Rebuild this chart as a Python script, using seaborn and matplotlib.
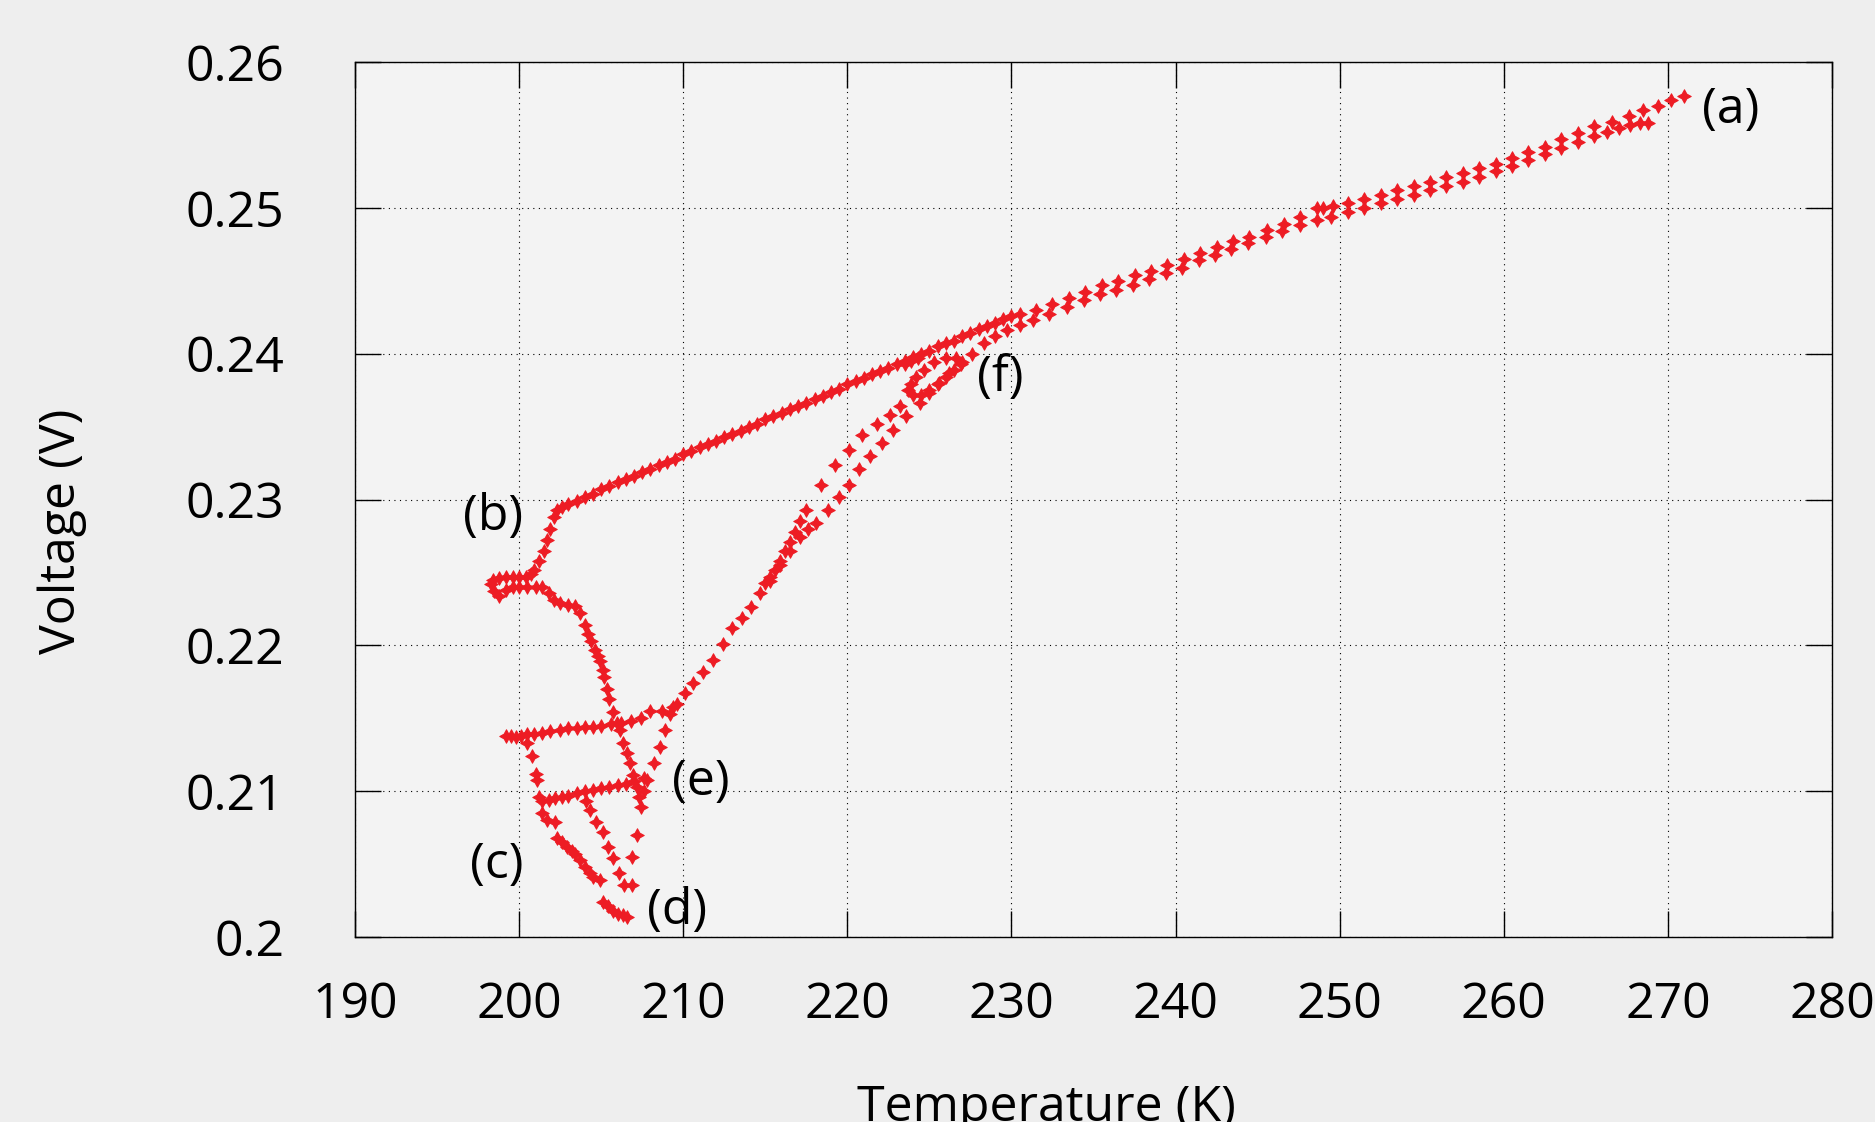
import numpy as np
import pandas as pd
import matplotlib
matplotlib.use("Agg")
import matplotlib.pyplot as plt
import seaborn as sns

# cooling run, from (a) down to the kink at (b)
cool_T = [271.0, 270.2, 269.4, 268.5, 267.6, 266.6, 265.5, 264.5, 263.5, 262.5,
          261.5, 260.5, 259.5, 258.5, 257.5, 256.5, 255.5, 254.5, 253.5, 252.5,
          251.5, 250.5, 249.6, 249.0, 248.6, 247.6, 246.6, 245.6, 244.5, 243.5,
          242.5, 241.5, 240.5, 239.5, 238.5, 237.5, 236.5, 235.5, 234.5, 233.5,
          232.5, 231.5, 230.5,
          230.0, 229.5, 229.0, 228.5, 228.0, 227.5, 227.0, 226.5, 226.0, 225.5,
          225.0, 224.5, 224.0, 223.5, 223.0, 222.5, 222.0, 221.5, 221.0, 220.5,
          220.0, 219.5, 219.0, 218.5, 218.0, 217.5, 217.0, 216.5, 216.0, 215.5,
          215.0, 214.5, 214.0, 213.5, 213.0, 212.5, 212.0, 211.5, 211.0, 210.5,
          210.0, 209.5, 209.0, 208.5, 208.0, 207.5, 207.0, 206.5, 206.0, 205.5,
          205.0, 204.5, 204.0, 203.5, 203.0, 202.6, 202.3]
cool_V = [0.2577, 0.2574, 0.2570, 0.2567, 0.2563, 0.2559, 0.2556, 0.2551, 0.2547, 0.2542,
          0.2538, 0.2534, 0.2530, 0.2527, 0.2524, 0.2521, 0.2518, 0.2515, 0.2512, 0.2509,
          0.2506, 0.2503, 0.2501, 0.2500, 0.2500, 0.2494, 0.2489, 0.2485, 0.2480, 0.2477,
          0.2473, 0.2469, 0.2465, 0.2461, 0.2457, 0.2454, 0.2450, 0.2447, 0.2442, 0.2438,
          0.2434, 0.2430, 0.2427,
          0.2426, 0.2424, 0.2421, 0.2419, 0.2417, 0.2414, 0.2412, 0.2409, 0.2407, 0.2405,
          0.2402, 0.2400, 0.2398, 0.2395, 0.2393, 0.2390, 0.2388, 0.2386, 0.2383, 0.2381,
          0.2379, 0.2376, 0.2374, 0.2371, 0.2369, 0.2366, 0.2364, 0.2362, 0.2359, 0.2357,
          0.2355, 0.2352, 0.2350, 0.2347, 0.2345, 0.2343, 0.2340, 0.2338, 0.2336, 0.2333,
          0.2331, 0.2328, 0.2326, 0.2324, 0.2321, 0.2319, 0.2316, 0.2314, 0.2312, 0.2309,
          0.2307, 0.2304, 0.2302, 0.2299, 0.2297, 0.2295, 0.2293]

# drop at (b), the small loop and the fall towards (e)
drop_T = [202.1, 201.9, 201.7, 201.5, 201.2, 200.9, 200.7, 200.4, 200.0, 199.6,
          199.2, 198.8, 198.4, 198.3, 198.5, 198.8, 199.2, 199.6, 200.0, 200.5,
          201.0, 201.4, 201.8, 202.1, 202.5, 203.0, 203.4, 203.7, 204.0, 204.2,
          204.4, 204.6, 204.8, 204.95, 205.1, 205.2, 205.35, 205.5, 205.75, 205.95,
          206.15, 206.35, 206.55, 206.76, 206.95, 207.17, 207.3, 207.4]
drop_V = [0.2288, 0.2280, 0.2272, 0.2265, 0.2258, 0.2252, 0.2249, 0.2247, 0.2247, 0.2247,
          0.2247, 0.2246, 0.2245, 0.2242, 0.2237, 0.2234, 0.2238, 0.2240, 0.2240, 0.2240,
          0.2240, 0.2240, 0.2236, 0.2231, 0.2229, 0.2228, 0.2227, 0.2222, 0.2214, 0.2208,
          0.2203, 0.2197, 0.2193, 0.2189, 0.2183, 0.2178, 0.2170, 0.2163, 0.2154, 0.2147,
          0.2142, 0.2133, 0.2126, 0.2119, 0.2111, 0.2103, 0.2096, 0.2089]

# warming run from (e) up to (f)
rise_T = [207.6, 207.8, 208.2, 208.6, 208.9, 209.2, 209.6, 210.1, 210.6, 211.2,
          211.8, 212.4, 213.0, 213.6, 214.1, 214.7, 215.0, 215.3, 215.6, 215.9,
          216.2, 216.5, 216.8, 217.1, 217.5]
rise_V = [0.2100, 0.2108, 0.2119, 0.2130, 0.2142, 0.2153, 0.2160, 0.2167, 0.2174, 0.2182,
          0.2190, 0.2201, 0.2212, 0.2219, 0.2226, 0.2236, 0.2243, 0.2247, 0.2252, 0.2258,
          0.2265, 0.2271, 0.2278, 0.2285, 0.2293]

# sparse dots left of the rising run
gap_T = [218.4, 219.25, 220.1, 220.9, 221.8, 222.6, 223.2]
gap_V = [0.2310, 0.2324, 0.2334, 0.2344, 0.2352, 0.2358, 0.2364]

# second rising track, continues past (f)
trackb_T = [215.3, 215.9, 216.5, 217.1, 217.6, 218.1, 218.8, 219.5, 220.1, 220.7,
            221.4, 222.1, 222.8, 223.6, 224.4, 225.0, 225.6, 226.2, 226.9, 227.6,
            228.3, 229.0, 229.7, 230.5, 231.3, 232.3, 233.4, 234.4, 235.4]
trackb_V = [0.2244, 0.2255, 0.2265, 0.2274, 0.2280, 0.2284, 0.2293, 0.2302, 0.2310, 0.2321,
            0.2330, 0.2339, 0.2348, 0.2357, 0.2366, 0.2373, 0.2380, 0.2387, 0.2393, 0.2400,
            0.2407, 0.2412, 0.2416, 0.2420, 0.2423, 0.2427, 0.2432, 0.2437, 0.2441]

# small loop at (f)
loop_T = [223.7, 224.0, 224.5, 225.0, 225.5, 226.0, 226.5, 227.0, 226.6, 226.0,
          225.3, 224.7, 224.2, 223.9, 223.5, 223.9, 224.3]
loop_V = [0.2375, 0.2372, 0.2372, 0.2375, 0.2379, 0.2384, 0.2389, 0.2394, 0.2397, 0.2397,
          0.2394, 0.2389, 0.2384, 0.2379, 0.2393, 0.2395, 0.2397]

# lower track towards (a)
upper_T = [236.4, 237.4, 238.4, 239.4, 240.4, 241.4, 242.4, 243.4, 244.4, 245.5,
           246.5, 247.6, 248.6, 249.5, 250.5, 251.5, 252.5, 253.5, 254.5, 255.5,
           256.5, 257.5, 258.5, 259.5, 260.5, 261.5, 262.5, 263.5, 264.5, 265.5,
           266.3, 267.0, 267.7, 268.3, 268.8]
upper_V = [0.2444, 0.2447, 0.2451, 0.2455, 0.2459, 0.2464, 0.2468, 0.2472, 0.2476, 0.2480,
           0.2484, 0.2488, 0.2492, 0.2494, 0.2497, 0.2500, 0.2503, 0.2506, 0.2509, 0.2512,
           0.2515, 0.2518, 0.2521, 0.2525, 0.2529, 0.2533, 0.2537, 0.2541, 0.2545, 0.2549,
           0.2552, 0.2555, 0.2557, 0.2558, 0.2558]

# (c) and (d) area: two flat runs and the steps under them
flat1_T = [199.2, 199.5, 199.8, 200.1, 200.5, 200.9, 201.4, 201.9, 202.5, 203.0,
           203.5, 204.0, 204.5, 205.0, 205.6, 206.2, 206.8, 207.4, 208.0, 208.7, 209.4]
flat1_V = [0.2138, 0.2138, 0.2137, 0.2138, 0.2139, 0.2139, 0.2140, 0.2141, 0.2142, 0.2143,
           0.2143, 0.2144, 0.2144, 0.2145, 0.2146, 0.2147, 0.2148, 0.2150, 0.2155, 0.2155, 0.2158]
step_T = [200.5, 200.8, 201.0, 201.1, 201.2]
step_V = [0.2133, 0.2124, 0.2112, 0.2108, 0.2096]
flat2_T = [201.4, 201.8, 202.2, 202.6, 203.0, 203.5, 204.0, 204.5, 205.0, 205.5,
           206.0, 206.5, 207.0, 207.6]
flat2_V = [0.2093, 0.2094, 0.2095, 0.2096, 0.2097, 0.2099, 0.2100, 0.2101, 0.2102, 0.2103,
           0.2104, 0.2105, 0.2107, 0.2109]
tail_T = [201.4, 201.7, 202.2, 202.3, 202.6, 202.9, 203.2, 203.4, 203.7, 204.0,
          204.3, 204.5, 204.9, 205.1, 205.4, 205.7, 206.0, 206.3, 206.6]
tail_V = [0.2085, 0.2080, 0.2079, 0.2068, 0.2065, 0.2062, 0.2059, 0.2057, 0.2053, 0.2048,
          0.2044, 0.2041, 0.2039, 0.2024, 0.2021, 0.2018, 0.2016, 0.2015, 0.2014]
dots_T = [204.1, 204.3, 204.7, 205.1, 205.4, 205.7, 206.1, 206.4, 206.9, 206.9, 207.2]
dots_V = [0.2093, 0.2087, 0.2079, 0.2072, 0.2062, 0.2054, 0.2044, 0.2036, 0.2036, 0.2055, 0.2070]

labels = ['(a)', '(b)', '(c)', '(d)', '(e)', '(f)']
label_T = [273.85, 198.4, 198.65, 209.6, 211.1, 229.3]
label_V = [0.2567, 0.2288, 0.2049, 0.2018, 0.2106, 0.2383]

x_ticks = [190, 200, 210, 220, 230, 240, 250, 260, 270, 280]
y_ticks = [0.2, 0.21, 0.22, 0.23, 0.24, 0.25, 0.26]
y_ticklabels = ['0.2', '0.21', '0.22', '0.23', '0.24', '0.25', '0.26']

all_T = (cool_T + drop_T + rise_T + gap_T + trackb_T + loop_T + upper_T
         + flat1_T + step_T + flat2_T + tail_T + dots_T)
all_V = (cool_V + drop_V + rise_V + gap_V + trackb_V + loop_V + upper_V
         + flat1_V + step_V + flat2_V + tail_V + dots_V)
df = pd.DataFrame({'T': all_T, 'V': all_V})

sns.set_theme(style="ticks")
plt.rcParams['font.family'] = ['Open Sans', 'DejaVu Sans']

fig = plt.figure(figsize=(18.75, 11.22), dpi=100, facecolor='#eeeeee')
ax = fig.add_axes([355 / 1875, 1 - 937 / 1122, 1477 / 1875, 875 / 1122])
ax.set_facecolor('#f3f3f3')

red = '#ed1c24'
sns.scatterplot(data=df, x='T', y='V', ax=ax, marker=(4, 1, 0), s=95,
                color=red, edgecolor=red, linewidth=0.7, zorder=3)

for lab, tx, vy in zip(labels, label_T, label_V):
    ax.text(tx, vy, lab, fontsize=36, ha='center', va='center', color='black')

ax.set_xlim(190, 280)
ax.set_ylim(0.2, 0.26)
ax.set_xticks(x_ticks)
ax.set_yticks(y_ticks)
ax.set_yticklabels(y_ticklabels)
ax.grid(True, color='black', linestyle=(0, (1, 4)), linewidth=0.8)
ax.tick_params(direction='in', length=19, width=1, top=True, right=True,
               labelsize=36, colors='black')
ax.tick_params(axis='x', pad=31)
ax.tick_params(axis='y', pad=51)
for sp in ax.spines.values():
    sp.set_color('black')
    sp.set_linewidth(1)

# the x label runs off the bottom edge, as in the original figure
ax.set_xlabel('Temperature (K)', fontsize=36, color='black')
ax.xaxis.set_label_coords((1046 - 355) / 1477, -0.167)
ax.set_ylabel('Voltage (V)', fontsize=36, color='black')
ax.yaxis.label.set_va('center')
ax.yaxis.set_label_coords((62 - 355) / 1477, (937 - 531) / 875)

fig.savefig('out.png', dpi=100, facecolor=fig.get_facecolor())
